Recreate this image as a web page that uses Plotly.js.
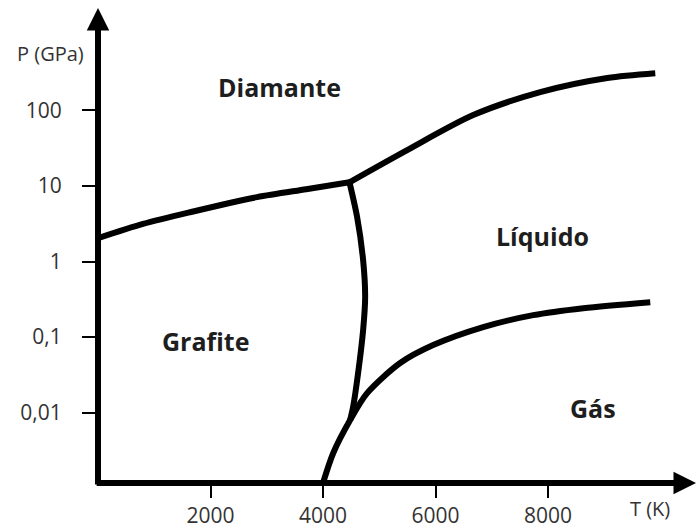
<!DOCTYPE html>
<html>
<head>
<meta charset="utf-8">
<script src="https://cdn.plot.ly/plotly-3.0.1.min.js"></script>
<style>html,body{margin:0;padding:0;background:#fff;}#chart{width:696px;height:529px;}</style>
</head>
<body>
<div id="chart"></div>
<script>
// Temperature (K) and pressure (GPa)
const grafDiamT = [0, 800, 1636, 2828, 3700, 4470];
const grafDiamP = [2.04, 3.15, 4.5, 7.13, 9.07, 11.2];

const diamLiqT = [4470, 5496, 6669, 7861, 9053, 9906];
const diamLiqP = [11.2, 29.9, 86.9, 175, 269, 311];

const grafLiqT = [4470, 4606, 4713, 4749, 4713, 4624, 4535, 4482];
const grafLiqP = [11.2, 3.88, 1.04, 0.34, 0.124, 0.0335, 0.0119, 0.00798];

const gasT = [4000, 4180, 4482, 4784, 5371, 5958, 6847, 7736, 8626, 9817];
const gasP = [0.00117, 0.0029, 0.00798, 0.0181, 0.0453, 0.0783, 0.1355, 0.1954, 0.2415, 0.29];

const xTickVals = [2000, 4000, 6000, 8000];
const xTickText = ['2000', '4000', '6000', '8000'];
const yTickVals = [0.01, 0.1, 1, 10, 100];
const yTickText = ['0,01', '0,1', '1', '10', '100'];

const regionLabels = ['Diamante', 'Grafite', 'Líquido', 'Gás'];
const regionT = [3219, 1903, 7896, 8803];
const regionP = [204, 0.0897, 2.2, 0.0116];

const xRange = [0, 10630];
const yRange = [-2.932, 3.357];

const FONT = 'Open Sans';
const lineStyle = {color: '#000', width: 6, shape: 'spline', smoothing: 0.8};
const traces = [
  {x: grafDiamT, y: grafDiamP},
  {x: diamLiqT, y: diamLiqP},
  {x: grafLiqT, y: grafLiqP},
  {x: gasT, y: gasP}
].map(t => Object.assign(t, {type: 'scatter', mode: 'lines', line: lineStyle, hoverinfo: 'skip', showlegend: false}));

const annotations = regionLabels.map((txt, i) => ({
  text: '<b>' + txt + '</b>', x: regionT[i], y: Math.log10(regionP[i]), xref: 'x', yref: 'y',
  xanchor: 'center', yanchor: 'middle',
  showarrow: false, font: {family: FONT, size: 25, color: '#1e1e1e'}
}));
// axes drawn as arrows
annotations.push({
  x: 0, y: yRange[1], ax: 0, ay: yRange[0] - 0.04, xref: 'x', yref: 'y', axref: 'x', ayref: 'y',
  text: '', showarrow: true, arrowhead: 2, arrowsize: 0.75, arrowwidth: 6, arrowcolor: '#000'
});
annotations.push({
  x: xRange[1], y: yRange[0], ax: -50, ay: yRange[0], xref: 'x', yref: 'y', axref: 'x', ayref: 'y',
  text: '', showarrow: true, arrowhead: 2, arrowsize: 0.75, arrowwidth: 6, arrowcolor: '#000'
});
annotations.push({text: 'P (GPa)', xref: 'paper', yref: 'paper', x: -0.079, y: 0.905, showarrow: false,
  xanchor: 'center', yanchor: 'middle', font: {family: FONT, size: 20, color: '#333'}});
annotations.push({text: 'T (K)', xref: 'paper', yref: 'paper', x: 0.923, y: -0.053, showarrow: false,
  xanchor: 'center', yanchor: 'middle', font: {family: FONT, size: 20, color: '#333'}});

const layout = {
  width: 696, height: 529,
  margin: {l: 98, r: 0, t: 8, b: 46},
  paper_bgcolor: '#fff', plot_bgcolor: '#fff',
  showlegend: false,
  xaxis: {range: xRange, showgrid: false, zeroline: false, showline: false,
    tickmode: 'array', tickvals: xTickVals, ticktext: xTickText,
    ticks: 'outside', ticklen: 14, tickwidth: 2, tickcolor: '#000',
    tickfont: {family: FONT, size: 21, color: '#333'}},
  yaxis: {type: 'log', range: yRange, showgrid: false, zeroline: false, showline: false,
    tickmode: 'array', tickvals: yTickVals, ticktext: yTickText,
    ticks: 'outside', ticklen: 15, tickwidth: 2, tickcolor: '#000', ticklabelstandoff: 16,
    tickfont: {family: FONT, size: 21, color: '#333'}},
  annotations: annotations
};

Plotly.newPlot('chart', traces, layout, {displayModeBar: false, staticPlot: true});
</script>
</body>
</html>
